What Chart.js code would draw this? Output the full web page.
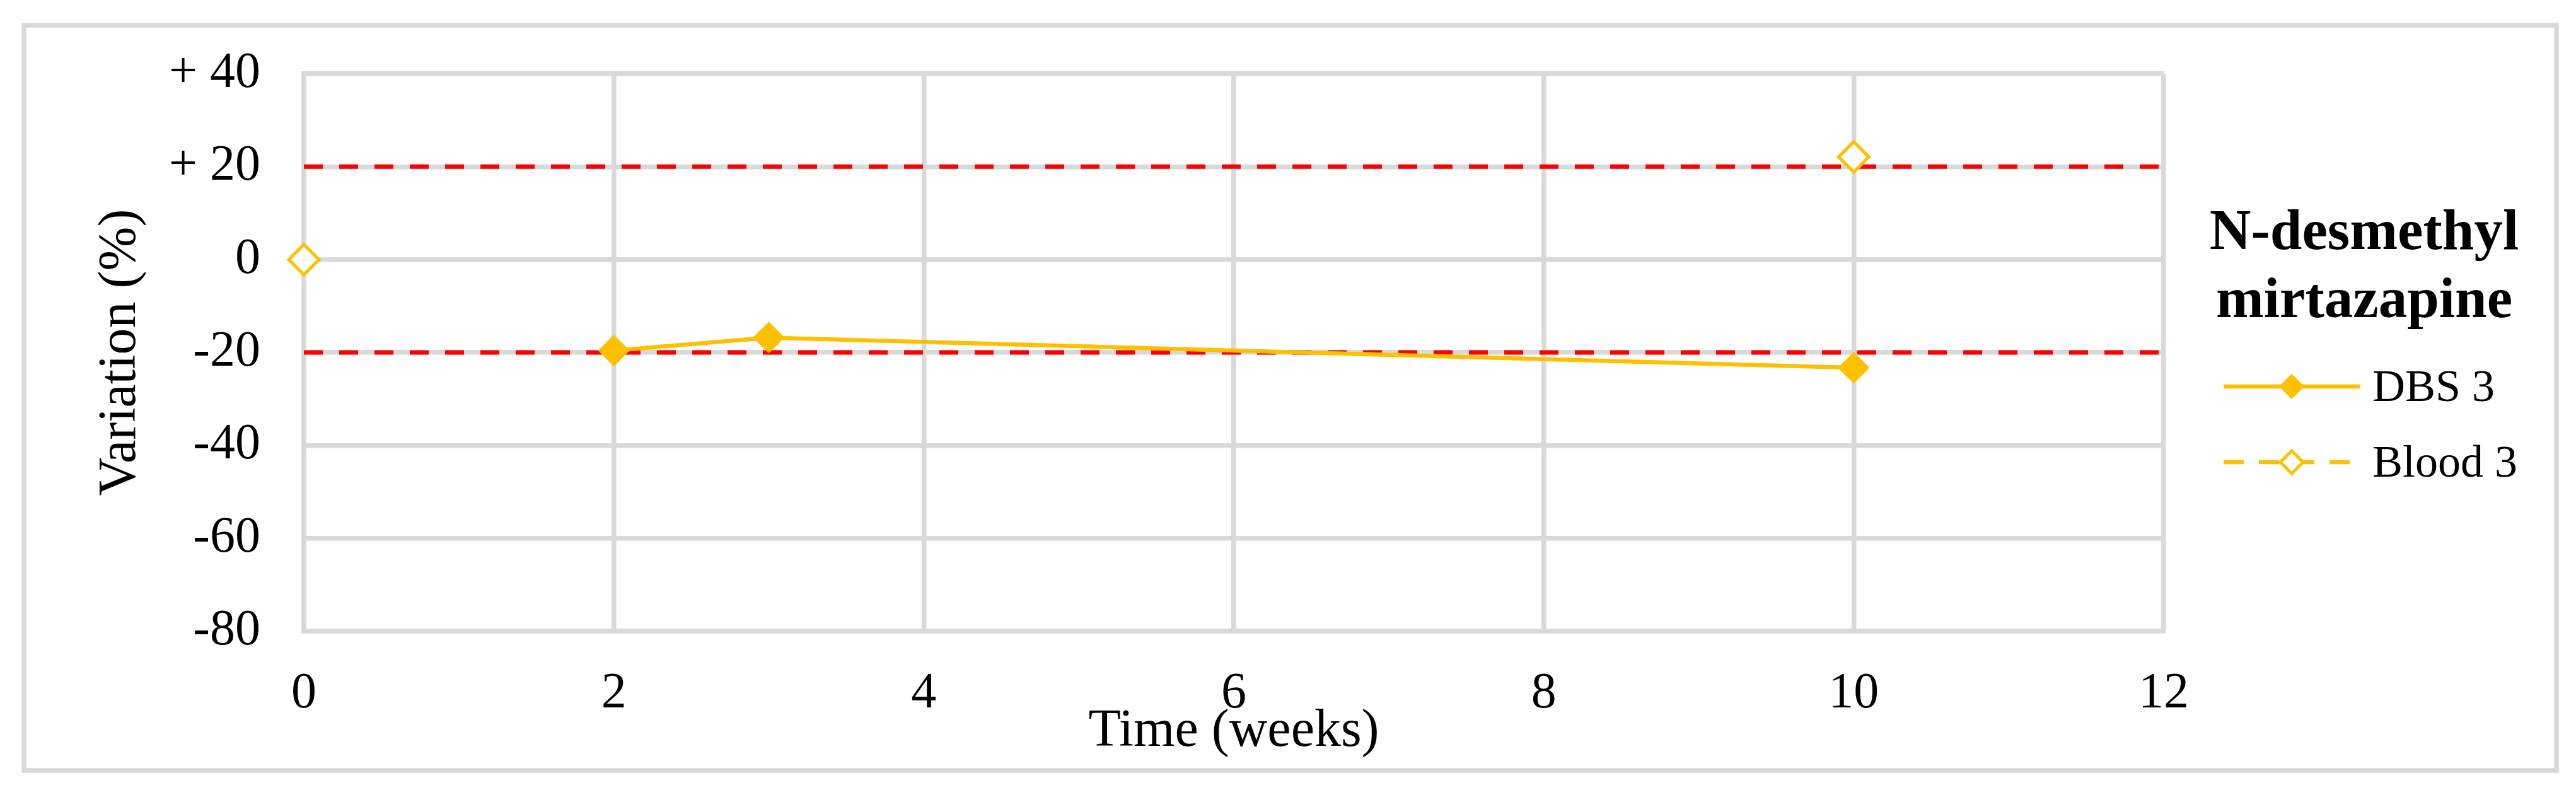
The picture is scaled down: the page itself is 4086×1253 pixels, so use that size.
<!DOCTYPE html>
<html>
<head>
<meta charset="utf-8">
<script src="https://cdn.jsdelivr.net/npm/chart.js@4.4.1/dist/chart.umd.min.js"></script>
<style>
html, body { margin: 0; padding: 0; background: #fff; }
canvas { display: block; }
</style>
</head>
<body>
<canvas id="variation" width="4086" height="1253"></canvas>
<script>
// values
var weeks = [0, 2, 3, 10];
var dbs3 = [null, -19.6, -16.8, -23.3];
var blood3 = [0, null, null, 22.1];
var limitWeeks = [0, 12];
var upperLimit = [20, 20];
var lowerLimit = [-20, -20];
var yTickValues = [-80, -60, -40, -20, 0, 20, 40];
var yTickLabels = ["-80", "-60", "-40", "-20", "0", "+ 20", "+ 40"];
var legendTitle = ["N-desmethyl", "mirtazapine"];

var gold = "#ffc000";
var grey = "#d9d9d9";
var serif = "'Liberation Serif', 'Times New Roman', serif";

function points(xs, ys) {
	return xs.map(function (x, i) { return {x: x, y: ys[i]}; });
}

// outer frame of the figure
var framePlugin = {
	id: "frame",
	beforeDraw: function (chart) {
		var ctx = chart.ctx;
		ctx.save();
		ctx.fillStyle = "#fff";
		ctx.fillRect(0, 0, chart.width, chart.height);
		ctx.strokeStyle = grey;
		ctx.lineWidth = 7.5;
		ctx.strokeRect(38, 40, 4017, 1182);
		ctx.restore();
	}
};

// legend on the right: two line title + line/marker samples
var sideLegend = {
	id: "sideLegend",
	afterDraw: function (chart) {
		var ctx = chart.ctx;
		ctx.save();
		ctx.fillStyle = "#000";
		ctx.textAlign = "center";
		ctx.textBaseline = "alphabetic";
		ctx.font = "bold 91px " + serif;
		legendTitle.forEach(function (line, i) {
			ctx.fillText(line, 3750, 395 + i * 108);
		});
		var row = 0;
		chart.data.datasets.forEach(function (ds) {
			if (!ds.inLegend) return;
			var y = 613 + row * 120;
			ctx.strokeStyle = ds.borderColor;
			ctx.lineWidth = ds.borderWidth;
			ctx.setLineDash(ds.borderDash || []);
			ctx.beginPath();
			ctx.moveTo(3527, y);
			ctx.lineTo(3743, y);
			ctx.stroke();
			ctx.setLineDash([]);
			ctx.fillStyle = ds.pointBackgroundColor;
			ctx.strokeStyle = ds.pointBorderColor;
			ctx.lineWidth = ds.pointBorderWidth;
			Chart.helpers.drawPoint(ctx, {pointStyle: "rectRot", radius: 18, borderWidth: ds.pointBorderWidth, rotation: 0}, 3635, y);
			ctx.fillStyle = "#000";
			ctx.textAlign = "left";
			ctx.font = "72px " + serif;
			ctx.fillText(ds.label, 3763, y + 23);
			row++;
		});
		ctx.restore();
	}
};

new Chart(document.getElementById("variation"), {
	type: "line",
	data: {
		datasets: [{
			label: "DBS 3",
			inLegend: true,
			data: points(weeks, dbs3),
			borderColor: gold,
			borderWidth: 6.5,
			pointStyle: "rectRot",
			pointRadius: 23,
			pointBackgroundColor: gold,
			pointBorderColor: gold,
			pointBorderWidth: 3,
			clip: false,
			order: 0
		}, {
			label: "Blood 3",
			inLegend: true,
			data: points(weeks, blood3),
			borderColor: gold,
			borderWidth: 6.5,
			borderDash: [32, 24],
			pointStyle: "rectRot",
			pointRadius: 24,
			pointBackgroundColor: "#fff",
			pointBorderColor: gold,
			pointBorderWidth: 5,
			clip: false,
			order: 0
		}, {
			label: "+20 %",
			data: points(limitWeeks, upperLimit),
			borderColor: "#ff0000",
			borderWidth: 7,
			borderDash: [30, 26],
			pointRadius: 0,
			order: 1
		}, {
			label: "-20 %",
			data: points(limitWeeks, lowerLimit),
			borderColor: "#ff0000",
			borderWidth: 7,
			borderDash: [30, 26],
			pointRadius: 0,
			order: 1
		}]
	},
	options: {
		responsive: false,
		animation: false,
		devicePixelRatio: 1,
		events: [],
		layout: {padding: {left: 100, top: 108, right: 654, bottom: 0}},
		plugins: {legend: {display: false}, tooltip: {enabled: false}},
		scales: {
			x: {
				type: "linear",
				min: 0,
				max: 12,
				ticks: {stepSize: 2, padding: 52, color: "#000", font: {family: serif, size: 80}},
				grid: {color: grey, lineWidth: 7.5, drawTicks: false},
				border: {display: true, color: grey, width: 7.5},
				title: {display: true, text: "Time (weeks)", color: "#000", font: {family: serif, size: 84}, padding: {top: 0, bottom: 42}},
				afterFit: function (scale) { scale.height = 252; }
			},
			y: {
				min: -80,
				max: 40,
				ticks: {
					stepSize: 20,
					padding: 69,
					color: "#000",
					font: {family: serif, size: 80},
					callback: function (value) {
						var i = yTickValues.indexOf(value);
						return i >= 0 ? yTickLabels[i] : "";
					}
				},
				grid: {color: grey, lineWidth: 7.5, drawTicks: false},
				border: {display: true, color: grey, width: 7.5},
				title: {display: true, text: "Variation (%)", color: "#000", font: {family: serif, size: 84}, padding: {top: 42, bottom: 0}},
				afterFit: function (scale) { scale.width = 382; }
			}
		}
	},
	plugins: [framePlugin, sideLegend]
});
</script>
</body>
</html>
